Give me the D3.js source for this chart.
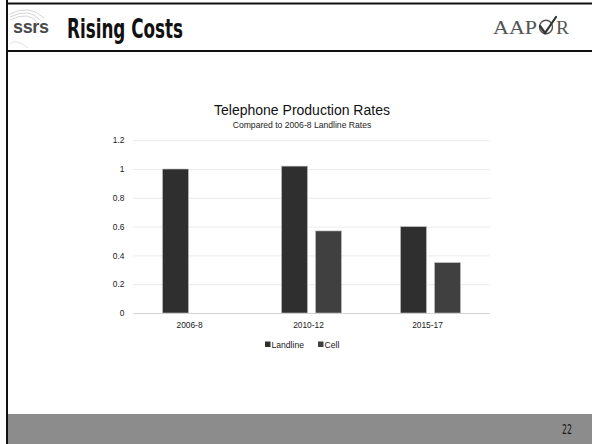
<!DOCTYPE html>
<html>
<head>
<meta charset="utf-8">
<script src="https://cdn.jsdelivr.net/npm/d3@7"></script>
<style>
  html, body { margin: 0; padding: 0; background: #fff; }
  svg { display: block; }
</style>
</head>
<body>
<svg id="slide" width="592" height="444"></svg>
<script>
// Chart data
const categories = ["2006-8", "2010-12", "2015-17"];
const seriesNames = ["Landline", "Cell"];
const landline = [1.0, 1.02, 0.60];
const cell = [null, 0.57, 0.35];
const yTicks = [0, 0.2, 0.4, 0.6, 0.8, 1, 1.2];
const seriesColors = ["#2f2f2f", "#404040"];

const svg = d3.select("#slide");

// ---- slide frame ----
// faint swoosh arcs in the top-left corner
const swoosh = svg.append("g").attr("fill", "none").attr("stroke", "#c8c8c8").attr("stroke-width", 0.8);
[0, 3, 6].forEach(o => {
  swoosh.append("path").attr("d", `M10,${14 + o} Q30,${4 + o} ${44 - o},${18 + o}`);
});
swoosh.append("path").attr("d", "M10,44 Q16,38 28,48").attr("stroke", "#d8d8d8");

svg.append("line").attr("x1", 7).attr("x2", 592).attr("y1", 3.5).attr("y2", 3.5)
  .attr("stroke", "#111").attr("stroke-width", 2);
svg.append("line").attr("x1", 7).attr("x2", 592).attr("y1", 51).attr("y2", 51)
  .attr("stroke", "#111").attr("stroke-width", 2);

// footer band
svg.append("rect").attr("x", 8).attr("y", 414).attr("width", 584).attr("height", 30)
  .attr("fill", "#8c8c8c");
svg.append("text").attr("x", 562).attr("y", 433.5)
  .attr("font-family", "'DejaVu Sans Condensed', 'Liberation Sans', sans-serif")
  .attr("font-size", 13.5).attr("fill", "#1a1a1a")
  .attr("textLength", 10).attr("lengthAdjust", "spacingAndGlyphs").text("22");

svg.append("line").attr("x1", 7).attr("x2", 7).attr("y1", 0).attr("y2", 444)
  .attr("stroke", "#111").attr("stroke-width", 2);

// header logo + title
svg.append("text").attr("x", 13).attr("y", 33)
  .attr("font-family", "Arial, 'Liberation Sans', sans-serif").attr("font-weight", "bold")
  .attr("font-size", 18).attr("fill", "#4a4a4a").attr("textLength", 36).text("ssrs");
svg.append("text").attr("x", 67).attr("y", 38)
  .attr("font-family", "'Liberation Sans Narrow', 'DejaVu Sans Condensed', sans-serif")
  .attr("font-weight", "bold").attr("font-size", 26).attr("fill", "#111")
  .attr("textLength", 116).attr("lengthAdjust", "spacingAndGlyphs").text("Rising Costs");

// AAPOR mark
const aapor = svg.append("g").attr("fill", "#555");
aapor.append("text").attr("x", 493).attr("y", 33.5)
  .attr("font-family", "'Liberation Serif', 'DejaVu Serif', serif")
  .attr("font-size", 19).attr("textLength", 44).attr("lengthAdjust", "spacingAndGlyphs").text("AAP");
aapor.append("ellipse").attr("cx", 546).attr("cy", 27).attr("rx", 6.5).attr("ry", 6.8)
  .attr("fill", "none").attr("stroke", "#555").attr("stroke-width", 1.4);
aapor.append("path").attr("d", "M540,26 L545,33 L556,17")
  .attr("fill", "none").attr("stroke", "#333").attr("stroke-width", 2.2).attr("stroke-linecap", "round");
aapor.append("text").attr("x", 556).attr("y", 33.5)
  .attr("font-family", "'Liberation Serif', 'DejaVu Serif', serif")
  .attr("font-size", 19).attr("textLength", 13).attr("lengthAdjust", "spacingAndGlyphs").text("R");

// ---- chart ----
const plot = { left: 133, right: 490, top: 140.2, bottom: 313 };
const x0 = d3.scaleBand().domain(categories).range([plot.left, plot.right]).padding(0);
const groupW = 60;
const x1 = d3.scaleBand().domain(seriesNames)
  .range([x0.bandwidth() / 2 - groupW / 2, x0.bandwidth() / 2 + groupW / 2])
  .paddingInner(8 / 34).paddingOuter(0);
const y = d3.scaleLinear().domain([0, 1.2]).range([plot.bottom, plot.top]);

const font = "Arial, 'Liberation Sans', Helvetica, sans-serif";

// title
svg.append("text").attr("x", 302).attr("y", 115).attr("text-anchor", "middle")
  .attr("font-family", font).attr("font-size", 14).attr("fill", "#111")
  .text("Telephone Production Rates");
svg.append("text").attr("x", 302).attr("y", 127.5).attr("text-anchor", "middle")
  .attr("font-family", font).attr("font-size", 8.6).attr("fill", "#222")
  .text("Compared to 2006-8 Landline Rates");

// gridlines + y labels
const yAxis = d3.axisLeft(y).tickValues(yTicks)
  .tickFormat(d => String(+d.toFixed(1)))
  .tickSize(-(plot.right - plot.left)).tickPadding(8.5);
const gy = svg.append("g").attr("transform", `translate(${plot.left},0)`).call(yAxis);
gy.select(".domain").remove();
gy.selectAll(".tick line").attr("stroke", d => d === 0 ? "#d4d4d4" : "#ececec").attr("stroke-width", 1);
gy.selectAll(".tick text").attr("font-family", font).attr("font-size", 8.4).attr("fill", "#1a1a1a");

// bars
const rows = categories.map((c, i) => ({ cat: c, vals: [landline[i], cell[i]] }));
const groups = svg.append("g").selectAll("g").data(rows).join("g")
  .attr("transform", d => `translate(${x0(d.cat)},0)`);
groups.selectAll("rect")
  .data(d => d.vals.map((v, j) => ({ name: seriesNames[j], v, j })).filter(e => e.v != null))
  .join("rect")
  .attr("x", e => x1(e.name))
  .attr("width", x1.bandwidth())
  .attr("y", e => y(e.v))
  .attr("height", e => y(0) - y(e.v))
  .attr("fill", e => seriesColors[e.j])
  .attr("stroke", "#c4c4c4").attr("stroke-width", 0.6);

// x labels
const xAxis = d3.axisBottom(x0).tickSize(0).tickPadding(9);
const gx = svg.append("g").attr("transform", `translate(0,${plot.bottom})`).call(xAxis);
gx.select(".domain").remove();
gx.selectAll(".tick text").attr("font-family", font).attr("font-size", 8.4).attr("fill", "#1a1a1a")
  .attr("dx", -3);

// legend
const legend = svg.append("g").attr("font-family", font).attr("font-size", 8.6).attr("fill", "#1a1a1a");
const legendX = [265, 318];
seriesNames.forEach((n, i) => {
  legend.append("rect").attr("x", legendX[i]).attr("y", 341.5).attr("width", 5.5).attr("height", 5.5)
    .attr("fill", seriesColors[i]);
  legend.append("text").attr("x", legendX[i] + 6.5).attr("y", 347.5).text(n);
});
</script>
</body>
</html>
